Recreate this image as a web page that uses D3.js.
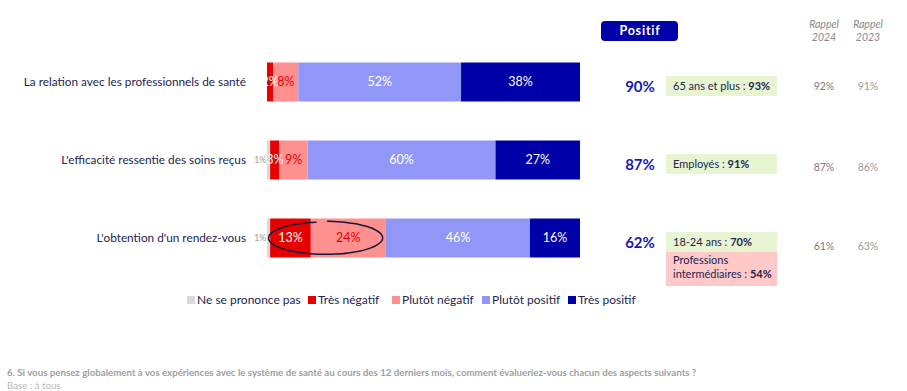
<!DOCTYPE html>
<html>
<head>
<meta charset="utf-8">
<script src="https://cdn.jsdelivr.net/npm/d3@7"></script>
<style>
  body { margin: 0; background: #fff; }
  svg { display: block; font-family: 'Lato', 'Open Sans', sans-serif; }
</style>
</head>
<body>
<svg id="chart" width="907" height="391"></svg>
<script>
const categories = [
  "La relation avec les professionnels de santé",
  "L'efficacité ressentie des soins reçus",
  "L'obtention d'un rendez-vous"
];
const seriesNames = ["Ne se prononce pas", "Très négatif", "Plutôt négatif", "Plutôt positif", "Très positif"];
const nspValues = [0, 1, 1];
const tresNegValues = [2, 3, 13];
const plutotNegValues = [8, 9, 24];
const plutotPosValues = [52, 60, 46];
const tresPosValues = [38, 27, 16];
const positifTotals = ["90%", "87%", "62%"];
const rappel2024 = ["92%", "87%", "61%"];
const rappel2023 = ["91%", "86%", "63%"];
// highlight boxes: [label, bold value, type]
const highlights = [
  [["65 ans et plus : ", "93%", "up"]],
  [["Employés : ", "91%", "up"]],
  [["18-24 ans : ", "70%", "up"], ["Professions\nintermédiaires : ", "54%", "down"]]
];

const colors = ["#d9d9d9", "#e60000", "#ff9090", "#9297f7", "#0000a8"];
const labelColors = ["#9a9a9a", "#ffffff", "#e60000", "#ffffff", "#ffffff"];
const navy = "#24244f";

const svg = d3.select("#chart");
const x = d3.scaleLinear().domain([0, 100]).range([267, 580]);
const y = d3.scaleBand().domain(categories).range([43, 277]).paddingInner(0.5).paddingOuter(0.25);

const allSeries = [nspValues, tresNegValues, plutotNegValues, plutotPosValues, tresPosValues];
const rows = categories.map((c, i) => {
  let acc = 0;
  return allSeries.map((s, k) => {
    const seg = { cat: c, k, v: s[i], x0: acc, x1: acc + s[i] };
    acc += s[i];
    return seg;
  });
});

// category labels
svg.append("g").selectAll("text").data(categories).join("text")
  .attr("x", 246).attr("y", d => y(d) + y.bandwidth() / 2)
  .attr("dy", "0.35em").attr("text-anchor", "end")
  .attr("font-size", 11.8).attr("fill", navy)
  .text(d => d);

// bars
const barG = svg.append("g");
rows.forEach(segs => {
  const g = barG.append("g");
  const shown = segs.filter(d => d.v > 0);
  g.selectAll("rect").data(shown).join("rect")
    .attr("x", d => x(d.x0)).attr("width", d => x(d.x1) - x(d.x0))
    .attr("y", d => y(d.cat)).attr("height", y.bandwidth())
    .attr("fill", d => colors[d.k]);
  g.selectAll("text").data(shown).join("text")
    .attr("x", d => d.k === 0 ? x(d.x0) - 1 : (x(d.x0) + x(d.x1)) / 2)
    .attr("y", d => y(d.cat) + y.bandwidth() / 2)
    .attr("dy", "0.35em").attr("text-anchor", d => d.k === 0 ? "end" : "middle")
    .attr("font-size", d => d.k === 0 ? 8.5 : 12.5)
    .attr("fill", d => labelColors[d.k])
    .text(d => d.v + "%");
});

// hand drawn circle around negative part of last row
const last = categories[2];
const ecx = (x(1) + x(36)) / 2, ecy = y(last) + y.bandwidth() / 2 + 1;
const erx = (x(36) - x(1)) / 2 + 1, ery = 16;
const pts = d3.range(0, 1.02, 0.02).map(t => {
  const a = -Math.PI / 2 - 0.15 - t * Math.PI * 2 * 0.97;
  const r = 1 + 0.05 * t;
  return [ecx + erx * r * Math.cos(a), ecy + ery * r * Math.sin(a) - 1];
});
svg.append("path").attr("d", d3.line().curve(d3.curveBasis)(pts))
  .attr("fill", "none").attr("stroke", "#16163f").attr("stroke-width", 1.5);

// Positif header
svg.append("rect").attr("x", 601).attr("y", 21).attr("width", 77).attr("height", 20)
  .attr("rx", 4).attr("fill", "#0000a8");
svg.append("text").attr("x", 640).attr("y", 31).attr("dy", "0.35em").attr("text-anchor", "middle")
  .attr("fill", "#fff").attr("font-size", 12.5).attr("font-weight", "bold").attr("letter-spacing", 0.8)
  .text("Positif");

svg.append("g").selectAll("text").data(positifTotals).join("text")
  .attr("x", 640).attr("y", (d, i) => y(categories[i]) + y.bandwidth() / 2 + 10)
  .attr("text-anchor", "middle").attr("font-size", 15).attr("font-weight", "bold")
  .attr("fill", "#1a1ab0").text(d => d);

// highlight boxes
highlights.forEach((list, i) => {
  let top = y(categories[i]) + y.bandwidth() / 2 - 6;
  list.forEach(h => {
    const lines = h[0].split("\n");
    const hgt = lines.length === 1 ? 20 : 34;
    svg.append("rect").attr("x", 666).attr("y", top).attr("width", 111).attr("height", hgt)
      .attr("fill", h[2] === "up" ? "#e8f5d3" : "#ffc9c9");
    lines.forEach((ln, j) => {
      const t = svg.append("text").attr("x", 673)
        .attr("y", top + (lines.length === 1 ? 14 : 12 + j * 14))
        .attr("font-size", 11).attr("fill", navy);
      t.append("tspan").text(ln);
      if (j === lines.length - 1) t.append("tspan").attr("font-weight", "bold").text(h[1]);
    });
    top += hgt;
  });
});

// rappel columns
const rappelCols = [[824, "2024", rappel2024, "#7a7a7a"], [868, "2023", rappel2023, "#9a9a9a"]];
rappelCols.forEach(([cx, yr, vals, col]) => {
  svg.append("text").attr("x", cx).attr("y", 28).attr("text-anchor", "middle")
    .attr("font-size", 10.5).attr("font-style", "italic").attr("fill", "#888").text("Rappel");
  svg.append("text").attr("x", cx).attr("y", 41).attr("text-anchor", "middle")
    .attr("font-size", 10.5).attr("font-style", "italic").attr("fill", "#888").text(yr);
  svg.append("g").selectAll("text").data(vals).join("text")
    .attr("x", cx).attr("y", (d, i) => y(categories[i]) + y.bandwidth() / 2 + [8, 11, 12][i])
    .attr("text-anchor", "middle").attr("font-size", 10.5).attr("fill", col).text(d => d);
});

// legend
const legendX = [187, 308, 392, 482, 568];
const lg = svg.append("g").selectAll("g").data(seriesNames).join("g")
  .attr("transform", (d, i) => `translate(${legendX[i]},300)`);
lg.append("rect").attr("x", 0).attr("y", -4).attr("width", 8).attr("height", 8)
  .attr("fill", (d, i) => colors[i]);
lg.append("text").attr("x", 10).attr("dy", "0.35em").attr("font-size", 12)
  .attr("fill", navy).text(d => d);

// footer
svg.append("text").attr("x", 7).attr("y", 376).attr("font-size", 9.7).attr("font-weight", "bold")
  .attr("fill", "#a0a0a0")
  .text("6. Si vous pensez globalement à vos expériences avec le système de santé au cours des 12 derniers mois, comment évalueriez-vous chacun des aspects suivants ?");
svg.append("text").attr("x", 7).attr("y", 389).attr("font-size", 9.7).attr("fill", "#b8b8b8")
  .text("Base : à tous");
</script>
</body>
</html>
